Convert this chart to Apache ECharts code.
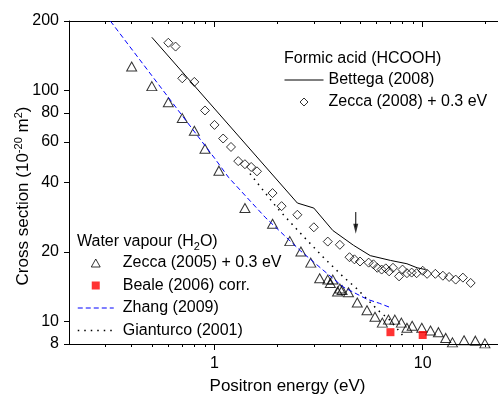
<!DOCTYPE html>
<html>
<head>
<meta charset="utf-8">
<script src="https://cdn.jsdelivr.net/npm/echarts@6/dist/echarts.min.js"></script>
<style>
  html, body { margin: 0; padding: 0; background: #fff; }
  #chart { width: 498px; height: 394px; }
</style>
</head>
<body>
<div id="chart"></div>
<script>
var FONT = '"Liberation Sans", Arial, sans-serif';

// formic acid (HCOOH)
var bettega2008 = [[0.5, 170], [2.5, 32.6], [3.0, 31.0], [3.7, 24.8], [4.65, 21.4], [5.6, 19.3],
  [7.0, 18.4], [8.4, 17.8], [9.4, 17.1], [10.3, 16.8]];
var zecca2008 = [[0.60, 161], [0.65, 155], [0.70, 113], [0.80, 109], [0.90, 82], [1.0, 71],
  [1.1, 62], [1.2, 57], [1.3, 49.5], [1.4, 48], [1.5, 46.7], [1.6, 44.7], [1.9, 36], [2.1, 31.6],
  [2.5, 29], [3.0, 25.6], [3.5, 22.2], [4.0, 21.5], [4.45, 19], [4.7, 18.6], [5.0, 18.2],
  [5.5, 18], [5.8, 17.7], [6.05, 17.1], [6.35, 16.8], [6.65, 17], [6.9, 16.5], [7.2, 17.1],
  [7.7, 15.7], [8.0, 16.8], [8.4, 16.2], [8.85, 16.3], [9.35, 16.2], [10, 16.6], [10.5, 16.1],
  [11.5, 16.1], [12.5, 15.8], [13.4, 15.6], [14.4, 15.2], [15.6, 15.5], [17, 14.7]];

// water vapour (H2O)
var zecca2005 = [[0.40, 127], [0.50, 104.5], [0.60, 89], [0.70, 76], [0.80, 67], [0.90, 56],
  [1.05, 45], [1.4, 31], [1.9, 26.5], [2.3, 22.3], [2.6, 20.1], [2.9, 18], [3.2, 15.4],
  [3.5, 15.2], [3.6, 14.7], [3.7, 15.2], [3.9, 13.5], [4.0, 13.9], [4.1, 13.7], [4.4, 13.4],
  [4.85, 12.1], [5.4, 11.2], [5.9, 10.5], [6.4, 9.9], [6.85, 10.2], [7.35, 10.2], [7.9, 9.9],
  [8.4, 9.4], [8.9, 9.6], [9.9, 9.4], [10.9, 9.15], [11.9, 9.0], [12.9, 8.5], [13.9, 8.13],
  [15.8, 8.3], [17.9, 8.27], [19.9, 8.05]];
var beale2006 = [[7.0, 9.0], [10.0, 8.75]];
var zhang2009 = [[0.316, 200], [0.5, 116], [1.0, 51], [1.17, 42], [1.75, 28.3], [2.58, 20.3],
  [3.3, 16.8], [4.16, 14.1], [5.4, 12.5], [6.2, 12.0], [7.0, 11.5]];
var gianturco2001 = [[1.48, 43.7], [2.0, 31], [2.67, 23.4], [3.33, 19], [4.16, 15.6],
  [4.82, 13.9], [6.1, 11.2], [7.0, 10.1], [8.2, 8.5]];

// arrow pointing at the formic acid curve
var arrowShaft = [[4.77, 29.8], [4.77, 25.6]];
var arrowHead = [[4.77, 25.2]];

var xMajor = [1, 10];
var xMinor = [0.3, 0.4, 0.5, 0.6, 0.7, 0.8, 0.9, 2, 3, 4, 5, 6, 7, 8, 9, 20];
var yTicks = [8, 10, 20, 40, 60, 80, 100, 200];

var chart = echarts.init(document.getElementById('chart'));

function xAxisDef(pos, ticks, len, showLine, showLabel, withName) {
  var ax = {
    type: 'log', logBase: 10, min: 0.2, max: 23, position: pos,
    axisLine: { show: showLine, onZero: false, lineStyle: { color: '#000', width: 1 } },
    axisTick: { show: true, inside: pos === 'top', length: len, customValues: ticks,
      lineStyle: { color: '#000', width: 1 } },
    axisLabel: { show: showLabel, customValues: xMajor, margin: 12,
      fontFamily: FONT, fontSize: 16, color: '#000' },
    splitLine: { show: false }
  };
  if (withName) {
    ax.name = 'Positron energy (eV)';
    ax.nameLocation = 'middle';
    ax.nameGap = 34;
    ax.nameMoveOverlap = false;
    ax.nameTextStyle = { fontFamily: FONT, fontSize: 17, color: '#000', padding: [0, 0, 0, 8] };
  }
  return ax;
}

var hollow = { color: 'rgba(0,0,0,0)', borderColor: '#000', borderWidth: 1 };
var lineOnly = { opacity: 0 };
var thinBorder = { borderWidth: 1 };
var iconDiamond = 'path://M5,0 L10,5 L5,10 L0,5 Z';
var iconTriangle = 'path://M5,0 L10,9 L0,9 Z';
var iconSquare = 'path://M0,0 L10,0 L10,10 L0,10 Z';
var textPlain = { fontFamily: FONT, fontSize: 16, fontWeight: 'normal', color: '#000' };

var option = {
  animation: false,
  backgroundColor: '#fff',
  grid: { left: 69, right: 0, top: 21, bottom: 50, outerBoundsMode: 'none', containLabel: false },
  title: [
    { text: 'Formic acid (HCOOH)', left: 284, top: 51, padding: 0, textStyle: textPlain },
    { text: '{t|Water vapour (H}{s|2}{t|O)}', left: 77, top: 232, padding: 0,
      textStyle: { fontWeight: 'normal', rich: {
        t: { fontFamily: FONT, fontSize: 16, fontWeight: 'normal', color: '#000', lineHeight: 20 },
        s: { fontFamily: FONT, fontSize: 11, fontWeight: 'normal', color: '#000', lineHeight: 11,
          verticalAlign: 'bottom' }
      } } }
  ],
  legend: [
    { orient: 'vertical', left: 284, top: 72, padding: 0, itemWidth: 39, itemHeight: 8, itemGap: 6,
      selectedMode: false,
      data: [
        { name: 'Bettega (2008)', itemStyle: lineOnly, lineStyle: { width: 1 } },
        { name: 'Zecca (2008) + 0.3 eV', icon: iconDiamond, itemStyle: thinBorder }
      ],
      textStyle: textPlain },
    { orient: 'vertical', left: 77, top: 255, padding: 0, itemWidth: 36, itemHeight: 8, itemGap: 6.5,
      selectedMode: false,
      data: [
        { name: 'Zecca (2005) + 0.3 eV', icon: iconTriangle, itemStyle: thinBorder },
        { name: 'Beale (2006) corr.', icon: iconSquare, itemStyle: { borderWidth: 0 } },
        { name: 'Zhang (2009)', itemStyle: lineOnly, lineStyle: { width: 1 } },
        { name: 'Gianturco (2001)', itemStyle: lineOnly, lineStyle: { width: 1.5 } }
      ],
      textStyle: { fontFamily: FONT, fontSize: 16, color: '#000', padding: [0, 0, 0, 4] } }
  ],
  xAxis: [
    xAxisDef('bottom', xMajor, 6, true, true, true),
    xAxisDef('bottom', xMinor, 3, false, false, false),
    xAxisDef('top', xMajor, 6, true, false, false),
    xAxisDef('top', xMinor, 3, false, false, false)
  ],
  yAxis: [{
    type: 'log', logBase: 10, min: 8, max: 200, position: 'left',
    axisLine: { show: true, onZero: false, lineStyle: { color: '#000', width: 1 } },
    axisTick: { show: true, length: 5, customValues: yTicks, lineStyle: { color: '#000' } },
    axisLabel: { customValues: yTicks, margin: 10, fontFamily: FONT, fontSize: 16, color: '#000' },
    splitLine: { show: false },
    name: '{a|Cross section (10}{s|-20}{a| m}{s|2}{a|)}',
    nameLocation: 'middle',
    nameGap: 36,
    nameMoveOverlap: false,
    nameTextStyle: {
      padding: [0, 27, 0, 0],
      rich: {
        a: { fontFamily: FONT, fontSize: 17, color: '#000', lineHeight: 20 },
        s: { fontFamily: FONT, fontSize: 11, color: '#000', lineHeight: 11, verticalAlign: 'top' }
      }
    }
  }],
  series: [
    { name: 'Bettega (2008)', type: 'line', data: bettega2008, symbol: 'none',
      lineStyle: { color: '#000', width: 1 }, itemStyle: { color: '#000' } },
    { name: 'Zecca (2008) + 0.3 eV', type: 'scatter', data: zecca2008,
      symbol: 'diamond', symbolSize: 9, itemStyle: hollow },
    { name: 'Zecca (2005) + 0.3 eV', type: 'scatter', data: zecca2005,
      symbol: 'triangle', symbolSize: [10, 9], itemStyle: hollow },
    { name: 'Beale (2006) corr.', type: 'scatter', data: beale2006,
      symbol: 'rect', symbolSize: 8, itemStyle: { color: '#ff0000' } },
    { name: 'Zhang (2009)', type: 'line', data: zhang2009, symbol: 'none',
      lineStyle: { color: '#0000ff', width: 1, type: [5, 3] }, itemStyle: { color: '#0000ff' } },
    { name: 'Gianturco (2001)', type: 'line', data: gianturco2001, symbol: 'none',
      lineStyle: { color: '#000', width: 1.5, type: [1.5, 5] }, itemStyle: { color: '#000' } },
    { name: 'arrow', type: 'line', data: arrowShaft, symbol: 'none', silent: true,
      lineStyle: { color: '#000', width: 1 } },
    { name: 'arrowHead', type: 'scatter', data: arrowHead, symbol: 'triangle', symbolRotate: 180,
      symbolSize: [5, 10], silent: true, itemStyle: { color: '#000' } }
  ]
};

chart.setOption(option);
window.onresize = chart.resize;
</script>
</body>
</html>
